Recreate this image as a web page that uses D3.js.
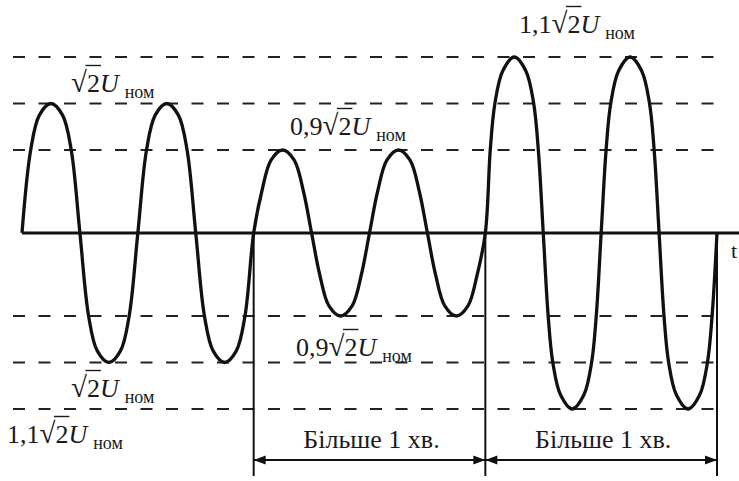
<!DOCTYPE html>
<html>
<head>
<meta charset="utf-8">
<script src="https://cdn.jsdelivr.net/npm/d3@7"></script>
<style>
body { margin: 0; background: #fff; }
svg text { font-family: "Liberation Serif", "DejaVu Serif", serif; fill: #1a1a1a; }
</style>
</head>
<body>
<script>
var width = 739,
	height = 481;

// amplitude of each half-wave (time unit = half a period), in units of sqrt(2)*U_nom
var halfAmps = [1, 1, 1, 1, 0.9, 0.9, 0.9, 0.9, 1.1, 1.1, 1.1, 1.1];
// rising part of one half-wave: [fraction of the half-wave, value]
var rise10 = [[0, 0], [0.15, 0.9], [0.3, 0.975], [0.5, 1]];
var rise09 = [[0, 0], [0.14, 0.45], [0.3, 0.79], [0.5, 0.9]];
var rise11 = [[0, 0], [0.085, 0.9], [0.165, 1], [0.3, 1.07], [0.5, 1.1]];
// dashed reference levels
var levels = [1.1, 1, 0.9, -0.9, -1, -1.1];
// time spans marked under the axis
var spans = [[4, 8], [8, 12]];
var spanText = "Більше 1 хв.";
var labelPrefix = ["", "0,9", "0,9", "", "1,1", "1,1"];

var axisY = 233;

var svg = d3.select("body").append("svg").attr("width", width).attr("height", height)
	.attr("font-family", "Liberation Serif, serif");

var X = d3.scaleLinear().domain([0, 12]).range([22, 717]);
// schematic: the levels are evenly spaced, not to scale
var Y = d3.scaleLinear()
	.domain([-1.1, -1, -0.9, 0, 0.9, 1, 1.1])
	.range([axisY + 176, axisY + 129.5, axisY + 83, axisY, axisY - 83, axisY - 129.5, axisY - 176]);

// build the wave from the half-wave shapes
var pts = [];
halfAmps.forEach(function(a, i) {
	var rise = a == 1 ? rise10 : (a == 0.9 ? rise09 : rise11);
	var half = rise.concat(rise.slice(0, -1).reverse().map(function(p) {
		return [1 - p[0], p[1]];
	}));
	var s = i % 2 ? -1 : 1;
	half.forEach(function(p, j) {
		if (i > 0 && j == 0) return;
		pts.push([i + p[0], s * p[1]]);
	});
});

// dashed lines
svg.selectAll(".lvl").data(levels).enter().append("line").attr("class", "lvl")
	.attr("x1", 13)
	.attr("x2", 719)
	.attr("y1", function(d) { return Y(d) })
	.attr("y2", function(d) { return Y(d) })
	.style("stroke", "#222")
	.style("stroke-width", 2.2)
	.style("stroke-dasharray", "12,13.5")

// time axis
svg.append("line")
	.attr("x1", X(0)).attr("x2", width)
	.attr("y1", axisY).attr("y2", axisY)
	.style("stroke", "#111").style("stroke-width", 3)

svg.append("text").attr("x", 731).attr("y", 258).style("font-size", "22px").text("t")

// vertical markers
var marks = [4, 8, 12];
svg.selectAll(".mark").data(marks).enter().append("line").attr("class", "mark")
	.attr("x1", function(d) { return X(d) })
	.attr("x2", function(d) { return X(d) })
	.attr("y1", axisY)
	.attr("y2", 476)
	.style("stroke", "#111")
	.style("stroke-width", 2)

// wave
var line = d3.line()
	.x(function(d) { return X(d[0]) })
	.y(function(d) { return Y(d[1]) })
	.curve(d3.curveCatmullRom.alpha(0.5));

svg.append("path").datum(pts)
	.attr("d", line)
	.style("fill", "none")
	.style("stroke", "#111")
	.style("stroke-width", 3.3)
	.style("stroke-linejoin", "round")

// span arrows
var arrowY = 460;
spans.forEach(function(s) {
	var a = X(s[0]), b = X(s[1]);
	svg.append("line")
		.attr("x1", a).attr("x2", b)
		.attr("y1", arrowY).attr("y2", arrowY)
		.style("stroke", "#111").style("stroke-width", 2)
	svg.append("path")
		.attr("d", "M" + a + "," + arrowY + "l12,-4.5v9z" + "M" + b + "," + arrowY + "l-12,-4.5v9z")
		.style("fill", "#111")
	svg.append("text")
		.attr("x", (a + b) / 2 + 2)
		.attr("y", 448)
		.attr("text-anchor", "middle")
		.style("font-size", "26px")
		.text(spanText)
});

// level labels: prefix + sqrt(2) U_ном
var labelPos = [[71, 92], [290, 135], [296, 356], [71, 397], [7, 443], [519, 33]];

function mathLabel(pre, x0, y0) {
	var t = svg.append("text").attr("x", x0).attr("y", y0).style("font-size", "26px");
	if (pre) t.append("tspan").text(pre);
	t.append("tspan").text("√").style("font-size", "29px");
	t.append("tspan").text("2");
	t.append("tspan").text("U").style("font-style", "italic");
	t.append("tspan").text("ном").attr("dx", 6).attr("dy", 6).style("font-size", "18px");
	var n = pre.length;
	var r = t.node().getExtentOfChar(n),
		d = t.node().getExtentOfChar(n + 1);
	svg.append("line")
		.attr("x1", r.x + r.width - 1.5).attr("x2", d.x + d.width + 1)
		.attr("y1", y0 - 26.5).attr("y2", y0 - 26.5)
		.style("stroke", "#1a1a1a").style("stroke-width", 1.4)
}

labelPrefix.forEach(function(p, i) {
	mathLabel(p, labelPos[i][0], labelPos[i][1]);
});
</script>
</body>
</html>
